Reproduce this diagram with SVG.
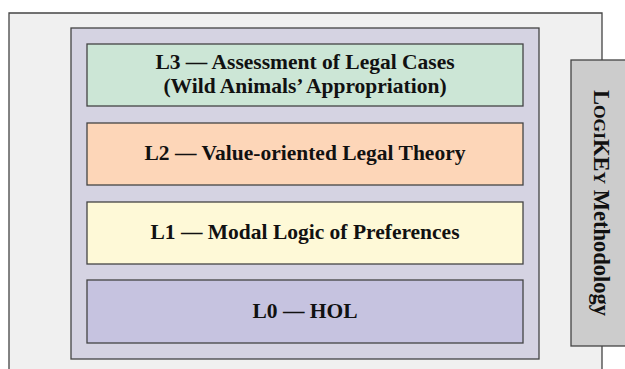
<svg xmlns="http://www.w3.org/2000/svg" width="625" height="369" viewBox="0 0 625 369">
<style>
.t{font-family:"Liberation Serif","Times New Roman",serif;font-weight:bold;font-size:21.5px;fill:#111;text-anchor:middle}
.b{stroke:#444;stroke-width:1.3}
</style>
<rect width="625" height="369" fill="#fff"/>
<g id="frame">
<path d="M9,375 V13 H602 V375" fill="#f0f0f0" class="b"/>
</g>
<g id="container">
<rect x="71" y="28" width="468" height="331" fill="#d5d3e2" class="b" stroke="#777"/>
</g>
<g id="L3">
<rect x="87" y="44" width="436" height="62" fill="#cce6d6" class="b"/>
<text class="t" x="305" y="69">L3 — Assessment of Legal Cases</text>
<text class="t" x="305" y="93">(Wild Animals’ Appropriation)</text>
</g>
<g id="L2">
<rect x="87" y="123" width="436" height="62" fill="#fdd6b8" class="b"/>
<text class="t" x="305" y="160">L2 — Value-oriented Legal Theory</text>
</g>
<g id="L1">
<rect x="87" y="202" width="436" height="62" fill="#fef9d7" class="b"/>
<text class="t" x="305" y="239">L1 — Modal Logic of Preferences</text>
</g>
<g id="L0">
<rect x="87" y="280" width="436" height="63" fill="#c6c3e0" class="b"/>
<text class="t" x="305" y="318">L0 — HOL</text>
</g>
<g id="methodology">
<rect x="571" y="60" width="70" height="286" fill="#cccccc" class="b"/>
<text class="t" style="font-size:22.5px" transform="translate(594,203) rotate(90)" x="0" y="0">L<tspan font-size="17.5">OGI</tspan>KE<tspan font-size="17.5">Y</tspan> Methodology</text>
</g>
<g id="connectors"></g>
</svg>
